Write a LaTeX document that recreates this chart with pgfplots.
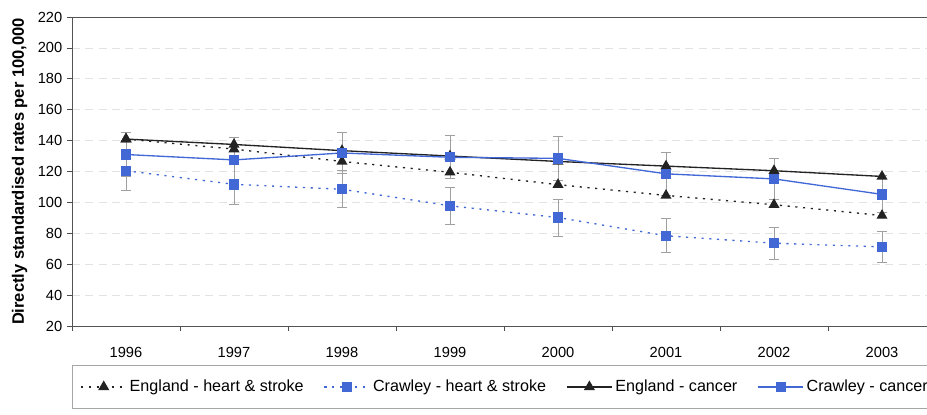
\documentclass[border=0pt]{standalone}
\usepackage{fontspec}
\setmainfont{Liberation Sans}
\usepackage{pgfplots}
\usepackage{pgfplotstable}
\pgfplotsset{compat=1.18}

\definecolor{cblue}{RGB}{66,104,214}
\definecolor{tri}{RGB}{35,35,35}
\definecolor{errc}{RGB}{160,160,160}

\pgfplotstableread{
x  eh     ch     ce    ec     cc     cce
0  141.0  120.5  13.0  141.0  131.0  14.0
1  134.5  111.7  13.0  137.5  127.5  14.5
2  126.5  108.5  12.0  133.5  132.0  13.0
3  119.5   97.8  12.0  130.0  129.2  14.0
4  111.5   90.2  12.0  126.5  128.5  14.0
5  104.5   78.4  11.0  123.5  118.5  14.0
6   98.5   73.6  10.3  120.5  115.2  13.0
7   91.5   71.2  10.0  116.8  105.2  12.0
}\datatable

\begin{document}
\begin{tikzpicture}
\begin{axis}[name=ax, scale only axis, width=648pt, height=231.75pt,
  xmin=-0.5, xmax=7.5, ymin=20, ymax=220,
  xtick={0,...,7}, xticklabels={1996,1997,1998,1999,2000,2001,2002,2003},
  major x tick style={draw=none},
  minor xtick={-0.5,0.5,...,7.5},
  minor tick length=3.75pt, major tick length=3.75pt,
  ytick={20,40,...,220},
  tick align=outside, xtick pos=bottom, ytick pos=left,
  tick style={gray!60!black, line width=0.6pt},
  ymajorgrids, grid style={gray!22, dash pattern=on 6pt off 4pt, line width=0.5pt},
  axis line style={gray!65!black, line width=0.7pt},
  /pgf/number format/assume math mode=true,
  tick label style={font=\fontsize{11}{13}\selectfont},
  x tick label style={yshift=-9pt},
  ylabel={Directly standardised rates per 100,000},
  ylabel style={font=\bfseries\fontsize{12.4}{14}\selectfont, yshift=1pt},
  legend columns=4,
  legend cell align=left,
  legend style={at={(rel axis cs:0,-0.126)}, anchor=north west,
    draw=gray!70, line width=0.6pt, inner xsep=6pt, inner ysep=9pt,
    font=\fontsize{12.1}{14}\selectfont,
    /tikz/every even column/.append style={column sep=13pt}},
  legend image code/.code={\draw[mark repeat=2,mark phase=2,#1] plot coordinates {(0pt,0pt) (17pt,0pt) (34pt,0pt)};},
]
\addplot[tri, line width=1pt, dash pattern=on 1.6pt off 4.2pt, mark=triangle*, mark size=3.8pt,
  mark options={solid, fill=tri, draw=tri}] table[x=x, y=eh] {\datatable};
\addlegendentry{England - heart \& stroke}
\addplot[cblue, line width=1pt, dash pattern=on 1.6pt off 4.2pt, mark=square*, mark size=3.4pt,
  mark options={solid, fill=cblue, draw=cblue},
  error bars/.cd, y dir=both, y explicit,
  error bar style={errc, line width=0.7pt, solid},
  error mark options={rotate=90, errc, mark size=4pt, line width=0.7pt}]
  table[x=x, y=ch, y error=ce] {\datatable};
\addlegendentry{Crawley - heart \& stroke}
\addplot[tri, line width=1pt, mark=triangle*, mark size=3.8pt,
  mark options={solid, fill=tri, draw=tri}] table[x=x, y=ec] {\datatable};
\addlegendentry{England - cancer}
\addplot[cblue, line width=1pt, mark=square*, mark size=3.4pt,
  mark options={solid, fill=cblue, draw=cblue},
  error bars/.cd, y dir=both, y explicit,
  error bar style={errc, line width=0.7pt, solid},
  error mark options={rotate=90, errc, mark size=4pt, line width=0.7pt}]
  table[x=x, y=cc, y error=cce] {\datatable};
\addlegendentry{Crawley - cancer}
\end{axis}
\pgfresetboundingbox
\path[use as bounding box] ([shift={(-54pt,-66pt)}]ax.south west) rectangle ([shift={(641.25pt,12.75pt)}]ax.north west);
\end{tikzpicture}
\end{document}
